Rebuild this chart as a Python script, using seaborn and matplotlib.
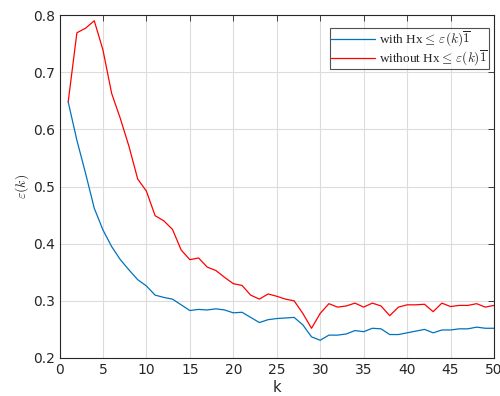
import numpy as np
import pandas as pd
import matplotlib
matplotlib.use("Agg")
import matplotlib.pyplot as plt
import seaborn as sns

k = list(range(1, 51))
with_constraint = [0.648, 0.581, 0.523, 0.462, 0.424, 0.395, 0.372, 0.354, 0.337, 0.326,
                   0.310, 0.306, 0.303, 0.293, 0.283, 0.285, 0.284, 0.286, 0.284, 0.279,
                   0.280, 0.271, 0.262, 0.267, 0.269, 0.270, 0.271, 0.258, 0.237, 0.231,
                   0.240, 0.240, 0.242, 0.248, 0.246, 0.252, 0.251, 0.241, 0.241, 0.244,
                   0.247, 0.250, 0.244, 0.249, 0.249, 0.251, 0.251, 0.254, 0.252, 0.252]
without_constraint = [0.648, 0.769, 0.777, 0.790, 0.739, 0.663, 0.619, 0.570, 0.513, 0.492,
                      0.449, 0.440, 0.425, 0.389, 0.372, 0.375, 0.359, 0.353, 0.341, 0.330,
                      0.327, 0.310, 0.303, 0.312, 0.308, 0.303, 0.300, 0.278, 0.252, 0.278,
                      0.295, 0.289, 0.291, 0.296, 0.289, 0.296, 0.291, 0.274, 0.289, 0.293,
                      0.293, 0.294, 0.281, 0.296, 0.290, 0.292, 0.292, 0.295, 0.289, 0.292]
labels = [r'with Hx$\leq\,\varepsilon(k)\overline{1}$',
          r'without Hx$\leq\,\varepsilon(k)\overline{1}$']
xticks = [0, 5, 10, 15, 20, 25, 30, 35, 40, 45, 50]
yticks = [0.2, 0.3, 0.4, 0.5, 0.6, 0.7, 0.8]

df = pd.DataFrame({
    'k': k + k,
    'eps': with_constraint + without_constraint,
    'series': [labels[0]] * len(k) + [labels[1]] * len(k),
})

sns.set_style("white")
plt.rcParams['mathtext.fontset'] = 'cm'
plt.rcParams['font.family'] = ['DejaVu Sans']

fig = plt.figure(figsize=(5.0, 3.96), dpi=100)
ax = fig.add_axes([0.119, 0.096, 0.869, 0.866])

sns.lineplot(data=df, x='k', y='eps', hue='series', hue_order=labels,
             palette=['#0072BD', '#FF0000'], linewidth=0.9, ax=ax, legend=True)

ax.set_xlim(0, 50)
ax.set_ylim(0.2, 0.8)
ax.set_xticks(xticks)
ax.set_xticklabels([str(t) for t in xticks])
ax.set_yticks(yticks)
ax.set_yticklabels([f'{t:.1f}' for t in yticks])
ax.grid(True, color='#dcdcdc', linewidth=0.8)
ax.set_axisbelow(True)
for s in ax.spines.values():
    s.set_color('#262626')
    s.set_linewidth(0.8)
    s.set_visible(True)
ax.tick_params(direction='in', top=True, right=True, length=4, width=0.6,
               colors='#262626', labelsize=10, labelcolor='#262626')
ax.set_xlabel('k', fontsize=10.5, color='#262626', labelpad=2)
ax.set_ylabel(r'$\varepsilon(k)$', fontsize=10, color='#262626', labelpad=1)

leg = ax.legend(loc='upper right', bbox_to_anchor=(0.989, 0.962), frameon=True,
                fancybox=False,
                prop={'family': 'Liberation Serif', 'size': 9.5},
                borderaxespad=0.0, handlelength=3.3, handletextpad=0.3,
                borderpad=0.12, labelspacing=0.0)
leg.get_frame().set_edgecolor('#262626')
leg.get_frame().set_linewidth(0.8)
leg.set_title(None)

fig.savefig('out.png', dpi=100)
